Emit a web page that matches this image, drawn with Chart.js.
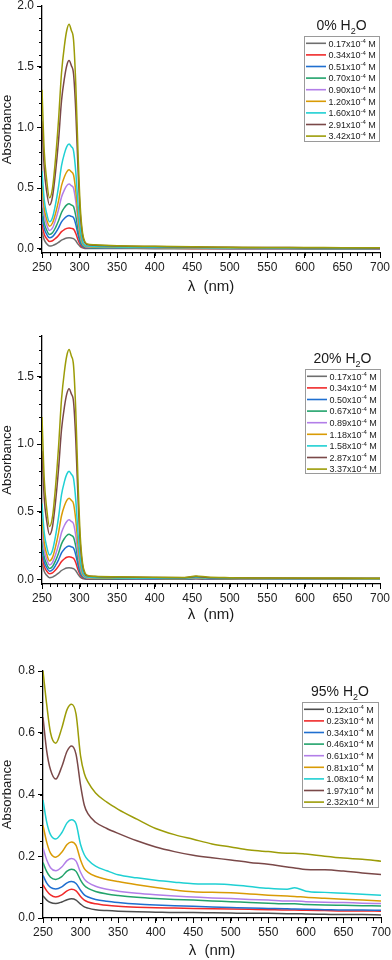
<!DOCTYPE html>
<html><head><meta charset="utf-8">
<script src="https://cdn.jsdelivr.net/npm/chart.js@4.4.1/dist/chart.umd.min.js"></script>
<style>
html,body{margin:0;padding:0;background:#fff;width:392px;height:960px;overflow:hidden;}
canvas{position:absolute;left:0;}
</style></head><body>
<canvas id="c1" width="392" height="300" style="top:0px"></canvas>
<canvas id="c2" width="392" height="325" style="top:300px"></canvas>
<canvas id="c3" width="392" height="335" style="top:625px"></canvas>
<script>
// ---------- DATA ----------
// Panel 1: 0% H2O
const wavelength0 = [250,253,256,260,264,268,272,276,280,283,286,289,292,295,298,301,304,307,310,320,350,400,450,500,550,600,650,700];
const conc0 = ['0.17','0.34','0.51','0.70','0.90','1.20','1.60','2.91','3.42'];
const abs0_017 = [0.14,0.073,0.043,0.022,0.026,0.037,0.052,0.071,0.082,0.088,0.09,0.088,0.084,0.066,0.038,0.017,0.007,0.003,0.002,0.002,0.002,0.001,0.001,0.001,0.001,0.001,0,0];
const abs0_034 = [0.2,0.12,0.085,0.06,0.066,0.085,0.11,0.141,0.159,0.168,0.172,0.168,0.162,0.126,0.072,0.032,0.013,0.007,0.005,0.005,0.004,0.004,0.003,0.003,0.002,0.002,0.002,0.001];
const abs0_051 = [0.27,0.167,0.122,0.09,0.1,0.131,0.172,0.222,0.251,0.267,0.273,0.267,0.256,0.2,0.115,0.05,0.02,0.01,0.008,0.007,0.006,0.005,0.004,0.003,0.003,0.002,0.002,0.002];
const abs0_070 = [0.34,0.213,0.157,0.117,0.131,0.174,0.23,0.299,0.34,0.361,0.37,0.361,0.347,0.27,0.155,0.068,0.028,0.014,0.011,0.009,0.008,0.006,0.005,0.004,0.004,0.003,0.003,0.002];
const abs0_090 = [0.44,0.275,0.202,0.15,0.171,0.236,0.322,0.426,0.487,0.52,0.533,0.52,0.498,0.389,0.224,0.098,0.04,0.02,0.015,0.012,0.01,0.008,0.007,0.006,0.005,0.004,0.004,0.003];
const abs0_120 = [0.52,0.33,0.246,0.186,0.212,0.29,0.394,0.52,0.595,0.634,0.65,0.634,0.608,0.475,0.273,0.12,0.048,0.024,0.018,0.015,0.012,0.01,0.008,0.007,0.006,0.005,0.005,0.004];
const abs0_160 = [0.64,0.402,0.297,0.222,0.258,0.366,0.51,0.684,0.788,0.842,0.864,0.842,0.806,0.63,0.363,0.159,0.06,0.03,0.022,0.018,0.015,0.012,0.01,0.008,0.007,0.006,0.005,0.005];
const abs0_291 = [1.05,0.66,0.48,0.36,0.43,0.63,0.89,1.22,1.41,1.51,1.55,1.51,1.44,1.13,0.65,0.285,0.11,0.05,0.035,0.028,0.022,0.018,0.014,0.012,0.01,0.009,0.008,0.007];
const abs0_342 = [1.31,0.80,0.58,0.42,0.50,0.74,1.06,1.45,1.68,1.80,1.85,1.80,1.72,1.35,0.78,0.34,0.13,0.06,0.04,0.032,0.025,0.02,0.016,0.013,0.011,0.01,0.009,0.008];

// Panel 2: 20% H2O
const wavelength20 = [250,253,256,260,264,268,272,276,280,283,286,289,292,295,298,301,304,307,310,320,350,400,440,455,470,500,550,600,650,700];
const conc20 = ['0.17','0.34','0.50','0.67','0.89','1.18','1.58','2.87','3.37'];
const abs20_017 = [0.12,0.058,0.031,0.012,0.016,0.029,0.045,0.065,0.077,0.083,0.086,0.083,0.079,0.063,0.036,0.016,0.006,0.002,0.001,0.001,0.001,0.001,0.001,0.003,0.001,0.001,0.001,0,0,0];
const abs20_034 = [0.17,0.096,0.063,0.04,0.047,0.068,0.097,0.131,0.152,0.163,0.167,0.163,0.155,0.122,0.07,0.031,0.012,0.006,0.004,0.004,0.003,0.003,0.003,0.005,0.003,0.003,0.002,0.002,0.002,0.001];
const abs20_050 = [0.22,0.129,0.089,0.06,0.07,0.102,0.144,0.195,0.225,0.24,0.247,0.24,0.23,0.18,0.104,0.045,0.018,0.008,0.006,0.005,0.004,0.004,0.003,0.006,0.004,0.003,0.003,0.002,0.002,0.002];
const abs20_067 = [0.28,0.166,0.116,0.08,0.094,0.137,0.193,0.262,0.303,0.324,0.333,0.324,0.31,0.243,0.14,0.061,0.024,0.011,0.008,0.006,0.005,0.005,0.004,0.007,0.005,0.004,0.003,0.003,0.003,0.002];
const abs20_089 = [0.36,0.215,0.152,0.106,0.125,0.181,0.256,0.346,0.4,0.428,0.44,0.428,0.41,0.321,0.185,0.081,0.032,0.015,0.01,0.008,0.007,0.006,0.005,0.009,0.006,0.005,0.004,0.004,0.003,0.003];
const abs20_118 = [0.45,0.271,0.193,0.136,0.162,0.24,0.344,0.47,0.545,0.584,0.6,0.584,0.558,0.438,0.252,0.11,0.043,0.02,0.013,0.01,0.008,0.007,0.006,0.011,0.007,0.006,0.005,0.005,0.004,0.004];
const abs20_158 = [0.56,0.343,0.248,0.18,0.215,0.319,0.458,0.626,0.726,0.778,0.8,0.778,0.744,0.584,0.336,0.147,0.056,0.025,0.016,0.012,0.01,0.008,0.008,0.014,0.009,0.007,0.006,0.006,0.005,0.005];
const abs20_287 = [0.95,0.597,0.442,0.33,0.39,0.572,0.814,1.108,1.281,1.372,1.41,1.372,1.312,1.029,0.592,0.259,0.1,0.042,0.026,0.02,0.016,0.013,0.012,0.021,0.014,0.011,0.009,0.008,0.008,0.007];
const abs20_337 = [1.20,0.74,0.536,0.39,0.463,0.683,0.977,1.333,1.544,1.654,1.70,1.654,1.581,1.241,0.714,0.313,0.12,0.05,0.03,0.022,0.018,0.015,0.014,0.024,0.016,0.012,0.01,0.009,0.009,0.008];

// Panel 3: 95% H2O
const wavelength95 = [250,255,260,267,275,282,288,294,300,305,310,320,335,350,375,400,425,450,475,500,525,550,575,585,600,625,650,675,700];
const conc95 = ['0.12','0.23','0.34','0.46','0.61','0.81','1.08','1.97','2.32'];
const abs95_012 = [0.072,0.058,0.05,0.047,0.052,0.059,0.062,0.058,0.045,0.036,0.032,0.027,0.024,0.022,0.02,0.019,0.018,0.018,0.017,0.016,0.015,0.015,0.014,0.014,0.013,0.012,0.011,0.011,0.01];
const abs95_023 = [0.108,0.088,0.075,0.068,0.075,0.088,0.093,0.088,0.07,0.058,0.052,0.046,0.041,0.038,0.035,0.033,0.032,0.031,0.03,0.029,0.028,0.027,0.026,0.026,0.025,0.024,0.023,0.023,0.022];
const abs95_034 = [0.138,0.113,0.099,0.094,0.101,0.114,0.118,0.112,0.09,0.075,0.068,0.06,0.054,0.05,0.045,0.042,0.04,0.038,0.036,0.034,0.032,0.031,0.03,0.029,0.028,0.027,0.026,0.026,0.025];
const abs95_046 = [0.18,0.15,0.132,0.125,0.134,0.152,0.158,0.151,0.123,0.105,0.096,0.086,0.078,0.073,0.067,0.063,0.06,0.058,0.055,0.053,0.05,0.048,0.046,0.046,0.044,0.042,0.041,0.04,0.039];
const abs95_061 = [0.227,0.188,0.163,0.153,0.165,0.186,0.193,0.184,0.148,0.126,0.115,0.103,0.093,0.087,0.08,0.075,0.071,0.068,0.065,0.063,0.06,0.058,0.055,0.055,0.053,0.051,0.05,0.048,0.047];
const abs95_081 = [0.30,0.245,0.21,0.197,0.213,0.238,0.246,0.235,0.188,0.16,0.148,0.135,0.125,0.118,0.108,0.099,0.091,0.085,0.083,0.082,0.078,0.074,0.071,0.07,0.067,0.064,0.061,0.058,0.055];
const abs95_108 = [0.382,0.31,0.27,0.256,0.276,0.308,0.318,0.305,0.238,0.205,0.188,0.168,0.153,0.14,0.13,0.122,0.116,0.111,0.11,0.108,0.102,0.096,0.093,0.098,0.087,0.083,0.08,0.077,0.074];
const abs95_197 = [0.65,0.54,0.48,0.45,0.49,0.54,0.557,0.53,0.43,0.365,0.337,0.31,0.29,0.274,0.25,0.23,0.215,0.203,0.195,0.188,0.18,0.174,0.165,0.162,0.157,0.156,0.152,0.146,0.141];
const abs95_232 = [0.80,0.69,0.60,0.566,0.615,0.675,0.692,0.66,0.525,0.468,0.44,0.405,0.375,0.352,0.32,0.29,0.27,0.255,0.24,0.23,0.22,0.215,0.21,0.21,0.207,0.2,0.194,0.19,0.184];

// tick labels
const xTicksNm = [250,300,350,400,450,500,550,600,650,700];
const yTicks0 = [0.0,0.5,1.0,1.5,2.0];
const yTicks20 = [0.0,0.5,1.0,1.5];
const yTicks95 = [0.0,0.2,0.4,0.6,0.8];

// ---------- STYLE ----------
const FONT = "'Liberation Sans', Arial, Helvetica, sans-serif";
const colorsA = ['#6e6e6e','#f02a2a','#1f6fd0','#22a36b','#b27ee8','#d99b05','#1fd0d3','#7a4848','#9c9c08'];
const colorsC = ['#4d4d4d','#f02a2a','#1f6fd0','#22a36b','#b27ee8','#d99b05','#1fd0d3','#7a4848','#9c9c08'];

Chart.defaults.font.family = FONT;
Chart.defaults.color = '#222';

const minorTicks = {
  id: 'minorTicks',
  afterDraw(chart, args, o) {
    const ctx = chart.ctx, xs = chart.scales.x, ys = chart.scales.y;
    ctx.save();
    ctx.strokeStyle = '#000'; ctx.lineWidth = 1;
    ctx.beginPath();
    const nx = Math.round((xs.max - xs.min) / o.xStep);
    for (let k = 0; k <= nx; k++) {
      const px = Math.round(xs.getPixelForValue(xs.min + k * o.xStep)) + 0.5;
      ctx.moveTo(px, xs.top); ctx.lineTo(px, xs.top + 3);
    }
    const k0 = Math.ceil(ys.min / o.yStep - 1e-9), k1 = Math.floor(ys.max / o.yStep + 1e-9);
    for (let k = k0; k <= k1; k++) {
      const py = Math.round(ys.getPixelForValue(k * o.yStep)) + 0.5;
      ctx.moveTo(ys.right, py); ctx.lineTo(ys.right - 3, py);
    }
    ctx.stroke();
    ctx.restore();
  }
};

function drawParts(ctx, parts, x, y) {
  let cx = x;
  for (const p of parts) {
    ctx.font = p[1] + 'px ' + FONT;
    ctx.fillText(p[0], cx, y + p[2]);
    cx += ctx.measureText(p[0]).width;
  }
}
function partsWidth(ctx, parts) {
  let w = 0;
  for (const p of parts) { ctx.font = p[1] + 'px ' + FONT; w += ctx.measureText(p[0]).width; }
  return w;
}

const insetLegend = {
  id: 'insetLegend',
  afterDraw(chart, args, o) {
    const ctx = chart.ctx;
    ctx.save();
    ctx.fillStyle = '#1a1a1a';
    ctx.textBaseline = 'alphabetic';
    ctx.textAlign = 'left';
    const tparts = [[o.pct + ' H', 14, 0], ['2', 9, 3.5], ['O', 14, 0]];
    const tw = partsWidth(ctx, tparts);
    drawParts(ctx, tparts, o.tcx - tw / 2, o.ty + 5);
    ctx.fillStyle = '#fff';
    ctx.fillRect(o.x, o.y, o.w, o.h);
    ctx.strokeStyle = '#9a9a9a'; ctx.lineWidth = 1;
    ctx.strokeRect(o.x + 0.5, o.y + 0.5, o.w, o.h);
    chart.data.datasets.forEach((ds, i) => {
      const y = o.y + 7.3 + i * 11.6;
      ctx.strokeStyle = ds.borderColor; ctx.lineWidth = 1.6;
      ctx.beginPath(); ctx.moveTo(o.x + 2, y); ctx.lineTo(o.x + 22, y); ctx.stroke();
      ctx.fillStyle = '#1a1a1a';
      drawParts(ctx, [[ds.conc + 'x10', 9, 0], ['-4', 6, -3.5], [' M', 9, 0]], o.x + 24.5, y + 3.3);
    });
    ctx.restore();
  }
};

function makeChart(id, wl, conc, series, colors, cfg) {
  const datasets = series.map((s, i) => ({
    label: conc[i] + 'x10⁻⁴ M',
    conc: conc[i],
    data: wl.map((w, j) => ({x: w, y: s[j]})),
    borderColor: colors[i],
    backgroundColor: colors[i],
    borderWidth: 1.5,
    pointRadius: 0,
    cubicInterpolationMode: 'monotone',
    fill: false,
    order: series.length - 1 - i
  }));
  return new Chart(document.getElementById(id), {
    type: 'line',
    data: {datasets},
    options: {
      responsive: false,
      animation: false,
      events: [],
      layout: {padding: {top: cfg.top, right: cfg.right, left: 0, bottom: 0}},
      scales: {
        x: {
          type: 'linear', min: 250, max: 700,
          afterFit(s) { s.height = cfg.xh; s.paddingLeft = 0; s.paddingRight = 0; },
          afterBuildTicks(s) { s.ticks = xTicksNm.map(v => ({value: v})); },
          ticks: {font: {size: 12}, color: '#222', padding: 2, maxRotation: 0, autoSkip: false},
          grid: {drawOnChartArea: false, tickLength: 5, color: '#000', tickWidth: 1},
          border: {display: true, color: '#000', width: 1.3},
          title: {display: true, text: 'λ  (nm)', font: {size: 15}, color: '#1a1a1a', padding: {top: 0, bottom: cfg.xtPad}}
        },
        y: {
          type: 'linear', min: cfg.ymin, max: cfg.ymax,
          afterFit(s) { s.width = cfg.yw; s.paddingTop = 0; s.paddingBottom = 0; },
          afterBuildTicks(s) { s.ticks = cfg.yTicks.map(v => ({value: v})); },
          ticks: {font: {size: 12}, color: '#222', padding: 3, callback: v => Number(v).toFixed(1)},
          grid: {drawOnChartArea: false, tickLength: 5, color: '#000', tickWidth: 1},
          border: {display: true, color: '#000', width: 1.3},
          title: {display: true, text: 'Absorbance', font: {size: 13}, color: '#1a1a1a', padding: {top: 0, bottom: 0}}
        }
      },
      plugins: {
        legend: {display: false},
        tooltip: {enabled: false},
        minorTicks: {xStep: 10, yStep: cfg.yStep},
        insetLegend: cfg.legend
      }
    },
    plugins: [minorTicks, insetLegend]
  });
}

makeChart('c1', wavelength0, conc0,
  [abs0_017, abs0_034, abs0_051, abs0_070, abs0_090, abs0_120, abs0_160, abs0_291, abs0_342], colorsA,
  {top: 6, right: 12, xh: 47, yw: 42, ymin: -0.035, ymax: 2.0, yStep: 0.1, yTicks: yTicks0, xtPad: 4,
   legend: {pct: '0%', tcx: 341.5, ty: 25, x: 304, y: 36, w: 75, h: 105}});

makeChart('c2', wavelength20, conc20,
  [abs20_017, abs20_034, abs20_050, abs20_067, abs20_089, abs20_118, abs20_158, abs20_287, abs20_337], colorsA,
  {top: 36, right: 12, xh: 41, yw: 42, ymin: -0.035, ymax: 1.8, yStep: 0.1, yTicks: yTicks20, xtPad: 1,
   legend: {pct: '20%', tcx: 342.5, ty: 58, x: 305, y: 69, w: 75, h: 104}});

makeChart('c3', wavelength95, conc95,
  [abs95_012, abs95_023, abs95_034, abs95_046, abs95_061, abs95_081, abs95_108, abs95_197, abs95_232], colorsC,
  {top: 46, right: 11, xh: 42, yw: 43, ymin: 0, ymax: 0.8, yStep: 0.05, yTicks: yTicks95, xtPad: 0,
   legend: {pct: '95%', tcx: 340, ty: 66, x: 302, y: 77, w: 76, h: 105}});
</script>
</body></html>
